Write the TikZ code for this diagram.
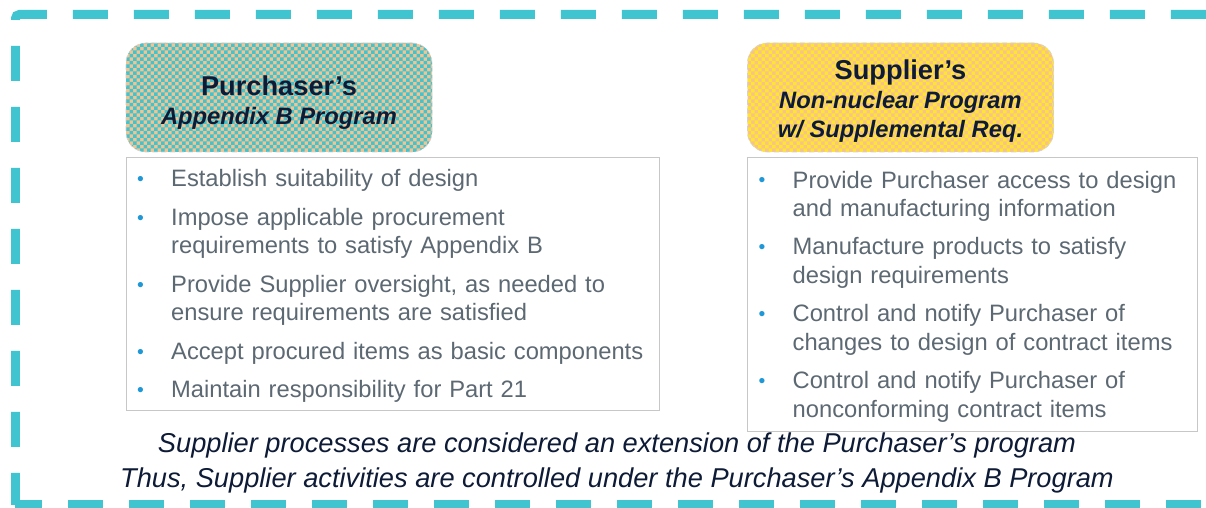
\documentclass[tikz,border=0pt]{standalone}
\usepackage{fontspec}
\setmainfont{Liberation Sans}
\usepackage{enumitem}
\usepackage{tikz}
\usetikzlibrary{calc}
\usetikzlibrary{positioning}
\definecolor{mteal}{HTML}{3FC4D0}
\definecolor{mpeach}{HTML}{F7C28E}
\definecolor{myellow}{HTML}{FFE52E}
\definecolor{mnavy}{HTML}{0E1B36}
\definecolor{mgray}{HTML}{5C6872}
\definecolor{mbullet}{HTML}{1E98D6}
\tikzset{mframe/.style={draw=mteal,line width=0.18cm,dash pattern=on 0.7cm off 0.52cm,rounded corners=0.08cm}}
\tikzset{mcheck/.style={path picture={
  \coordinate (sw) at (path picture bounding box.south west);
  \foreach \i in {0,...,44} {
    \fill[#1,sharp corners] \foreach \j in {0,...,15} {($(sw)+(0.14*\i,0.14*\j)$) rectangle ++(0.07,0.07) ++(0,0) rectangle ++(0.07,0.07)};
  }}}}
\tikzset{mhead/.style={draw=gray!35,densely dashed,line width=0.4pt,rounded corners=0.4cm,fill=mpeach,minimum width=6.12cm,minimum height=2.18cm,inner sep=0pt,align=center,text=mnavy,font=\fontsize{15.5}{16.5}\selectfont\bfseries}}
\tikzset{mlist/.style={draw=black!22,line width=0.6pt,inner xsep=0.1cm,inner ysep=0pt,align=left,text=mgray,font=\fontsize{13.5}{16.2}\selectfont}}
\newcommand{\msub}{\fontsize{13.5}{16.5}\selectfont\itshape}
\newcommand{\mend}{\rule[-7.3pt]{0pt}{7.3pt}}
\setlist[itemize]{label={\raisebox{0.6pt}{\textcolor{mbullet}{\fontsize{11}{11}\selectfont\textbullet}}},leftmargin=0.8cm,labelwidth=0.2cm,labelsep=0.48cm,align=left,topsep=0pt,partopsep=0pt,parsep=0pt,itemsep=5.7pt}

\begin{document}
\begin{tikzpicture}
\useasboundingbox[fill=white] (0,0) rectangle (24.12,10.16);
\draw[mframe,dash phase=0.06cm] (0.31,0.06) -- (0.31,9.87) -- (24.6,9.87);
\draw[mframe,dash phase=0.17cm] (0.31,0.06) -- (24.6,0.06);

\node[mhead,mcheck=mteal] (purch) at (5.58,8.21) {\rule{0pt}{17pt}Purchaser's\\ \msub Appendix B Program};
\node[mhead,mcheck=myellow] (suppl) at (18.01,8.21) {\rule{0pt}{15.8pt}Supplier's\\ \msub Non-nuclear Program\\ \msub w/ Supplemental Req.};

\node[mlist,text width=10.46cm,minimum height=5.06cm,below=0.1cm of purch.south west,anchor=north west] (purlist) {%
\begin{itemize}
\item Establish suitability of design
\item Impose applicable procurement\\ requirements to satisfy Appendix B
\item Provide Supplier oversight, as needed to\\ ensure requirements are satisfied
\item Accept procured items as basic components
\item Maintain responsibility for Part 21\mend
\end{itemize}};
\node[mlist,text width=8.8cm,minimum height=5.48cm,below=0.1cm of suppl.south west,anchor=north west] (suplist) {%
\begin{itemize}
\item Provide Purchaser access to design\\ and manufacturing information
\item Manufacture products to satisfy\\ design requirements
\item Control and notify Purchaser of\\ changes to design of contract items
\item Control and notify Purchaser of\\ nonconforming contract items\mend
\end{itemize}};

\node[align=center,text=mnavy,font=\fontsize{15.5}{19.9}\selectfont\itshape] (note) at (12.34,0.91) {Supplier processes are considered an extension of the Purchaser's program\\ Thus, Supplier activities are controlled under the Purchaser's Appendix B Program};
\end{tikzpicture}
\end{document}
